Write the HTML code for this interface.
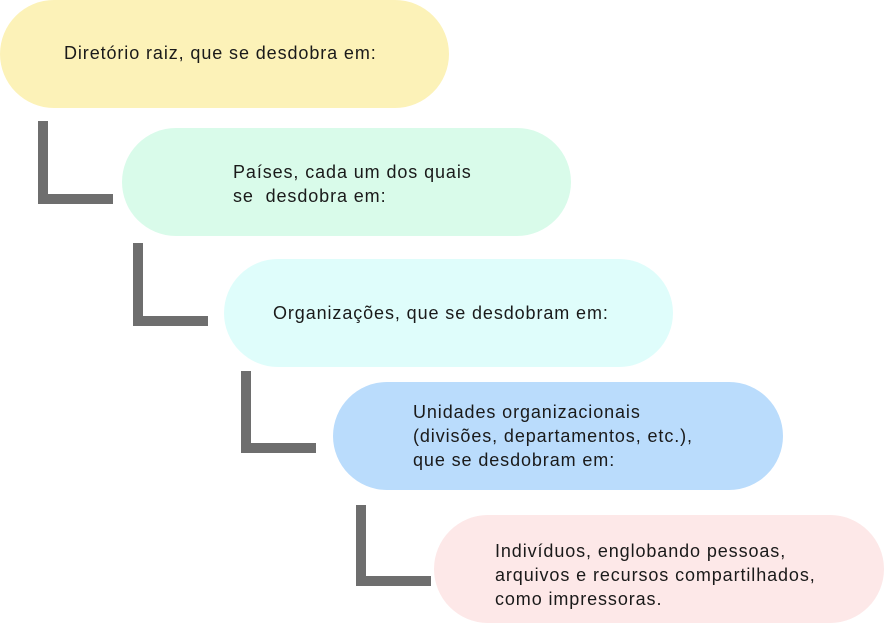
<!DOCTYPE html>
<html><head><meta charset="utf-8"><style>
body{margin:0;width:884px;height:628px;background:#fff;position:relative;overflow:hidden;font-family:"Liberation Sans",sans-serif;color:#1a1a1a}
.p{position:absolute;height:108px;border-radius:54px}
.t{position:absolute;font-size:18px;letter-spacing:0.9px;line-height:24px;white-space:pre}
.v,.h{position:absolute;background:#6e6e6e}
</style></head><body>
<div class="p" style="left:0;top:0;width:449px;background:#fcf2b8"></div>
<div class="t" style="left:64px;top:41px">Diretório raiz, que se desdobra em:</div>

<div class="v" style="left:38px;top:121px;width:10px;height:83px"></div>
<div class="h" style="left:38px;top:194px;width:75px;height:10px"></div>
<div class="p" style="left:122px;top:128px;width:449px;background:#d9fbea"></div>
<div class="t" style="left:233px;top:160px">Países, cada um dos quais
se  desdobra em:</div>

<div class="v" style="left:133px;top:243px;width:10px;height:83px"></div>
<div class="h" style="left:133px;top:316px;width:75px;height:10px"></div>
<div class="p" style="left:224px;top:259px;width:449px;background:#dffdfb"></div>
<div class="t" style="left:273px;top:301px">Organizações, que se desdobram em:</div>

<div class="v" style="left:241px;top:371px;width:10px;height:82px"></div>
<div class="h" style="left:241px;top:443px;width:75px;height:10px"></div>
<div class="p" style="left:333px;top:382px;width:450px;background:#badcfc"></div>
<div class="t" style="left:413px;top:400px">Unidades organizacionais
(divisões, departamentos, etc.),
que se desdobram em:</div>

<div class="v" style="left:356px;top:505px;width:10px;height:81px"></div>
<div class="h" style="left:356px;top:576px;width:75px;height:10px"></div>
<div class="p" style="left:434px;top:515px;width:450px;background:#fde8e8"></div>
<div class="t" style="left:495px;top:539px">Indivíduos, englobando pessoas,
arquivos e recursos compartilhados,
como impressoras.</div>
</body></html>
